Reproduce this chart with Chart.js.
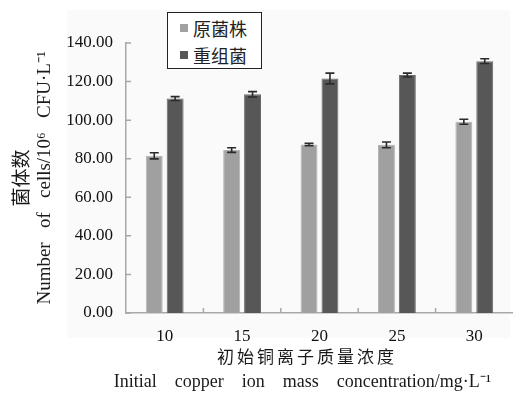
<!DOCTYPE html>
<html>
<head>
<meta charset="utf-8">
<script src="https://cdn.jsdelivr.net/npm/chart.js@4"></script>
<style>
    html, body { margin: 0; padding: 0; background: #fff; }
    #wrap { position: relative; width: 513px; height: 393px; }
    #legend {
        position: absolute; left: 167px; top: 12px; width: 93px; height: 54px;
        padding-top: 1px; border: 1px solid #222; background: #fff;
        font-family: "Noto Sans CJK SC"; font-size: 18px; color: #222;
    }
    #legend .item { display: flex; align-items: center; height: 27px; padding-left: 12px; }
    #legend .swatch { width: 8px; height: 8px; margin-right: 5px; }
</style>
</head>
<body>
<div id="wrap">
    <canvas id="bar-chart"></canvas>
    <div id="legend"></div>
</div>
<script>
const concentrations = ['10', '15', '20', '25', '30'];
const wildType = [81.5, 84.5, 87.4, 87.2, 99.2];
const wildTypeErr = [1.6, 1.2, 0.6, 1.5, 1.3];
const recombinant = [111.2, 113.4, 121.6, 123.4, 130.6];
const recombinantErr = [1.0, 1.4, 2.8, 1.0, 1.2];

const serif = "'Liberation Serif', 'Noto Sans CJK SC', serif";

// error bars drawn from the errors array on each dataset
const errorBars = {
    id: 'errorBars',
    afterDatasetsDraw: (chart) => {
        const ctx = chart.ctx;
        const y = chart.scales.y;
        ctx.save();
        ctx.strokeStyle = '#2b2b2b';
        ctx.lineWidth = 1.6;
        chart.data.datasets.forEach((ds, i) => {
            chart.getDatasetMeta(i).data.forEach((bar, j) => {
                const top = y.getPixelForValue(ds.data[j] + ds.errors[j]);
                const bottom = y.getPixelForValue(ds.data[j] - ds.errors[j]);
                ctx.beginPath();
                ctx.moveTo(bar.x, top); ctx.lineTo(bar.x, bottom);
                ctx.moveTo(bar.x - 4.5, top); ctx.lineTo(bar.x + 4.5, top);
                ctx.moveTo(bar.x - 4.5, bottom); ctx.lineTo(bar.x + 4.5, bottom);
                ctx.stroke();
            });
        });
        ctx.restore();
    }
};

// faint panel, inward tick marks and the x title
const decor = {
    id: 'decor',
    beforeDraw: (chart) => {
        const { ctx, chartArea } = chart;
        ctx.save();
        ctx.fillStyle = '#fafafa';
        ctx.fillRect(chartArea.left - 59, chartArea.top - 33, chartArea.right - chartArea.left + 56, chartArea.bottom - chartArea.top + 58);
        ctx.restore();
    },
    afterDraw: (chart) => {
        const { ctx, chartArea, scales } = chart;
        ctx.save();
        ctx.strokeStyle = '#a8a8a8';
        ctx.lineWidth = 1.5;
        ctx.beginPath();
        scales.y.ticks.forEach((t, i) => {
            const py = scales.y.getPixelForTick(i);
            ctx.moveTo(chartArea.left, py); ctx.lineTo(chartArea.left + 5, py);
        });
        for (let i = 1; i < concentrations.length; i++) {
            const px = (scales.x.getPixelForTick(i - 1) + scales.x.getPixelForTick(i)) / 2;
            ctx.moveTo(px, chartArea.bottom); ctx.lineTo(px, chartArea.bottom - 5);
        }
        ctx.stroke();

        const cx = (chartArea.left + chartArea.right) / 2 - 15;
        ctx.fillStyle = '#1a1a1a';
        ctx.textAlign = 'center';
        ctx.textBaseline = 'middle';
        ctx.font = "17px 'Noto Sans CJK SC'";
        ctx.letterSpacing = '3px';
        ctx.fillText('初始铜离子质量浓度', cx + 2.5, chartArea.bottom + 44);
        ctx.letterSpacing = '0px';
        ctx.font = '18px ' + serif;
        ctx.fillText('Initial    copper    ion    mass    concentration/mg·L⁻¹', cx - 2, chartArea.bottom + 69);
        ctx.restore();
    }
};

const chart = new Chart(document.getElementById('bar-chart').getContext('2d'), {
    type: 'bar',
    data: {
        labels: concentrations,
        datasets: [
            { label: '原菌株', data: wildType, errors: wildTypeErr, backgroundColor: '#a0a0a0', borderColor: '#b4b4b4', borderWidth: 1 },
            { label: '重组菌', data: recombinant, errors: recombinantErr, backgroundColor: '#575757', borderColor: '#6a6a6a', borderWidth: 1 }
        ]
    },
    options: {
        responsive: true,
        maintainAspectRatio: false,
        animation: false,
        layout: { padding: { top: 43, right: 0, bottom: 0, left: 0 } },
        datasets: { bar: { categoryPercentage: 0.54, barPercentage: 0.81 } },
        scales: {
            x: {
                grid: { display: false },
                border: { display: true, color: '#a8a8a8', width: 1.5 },
                ticks: { color: '#111', padding: 5, font: { family: serif, size: 17 } },
                afterFit: (scale) => { scale.height = 80; }
            },
            y: {
                min: 0, max: 140,
                grid: { display: false },
                border: { display: true, color: '#a8a8a8', width: 1.5 },
                ticks: {
                    stepSize: 20, color: '#111', padding: 5,
                    font: { family: serif, size: 17 },
                    callback: (v) => v.toFixed(2)
                },
                title: {
                    display: true,
                    text: ['菌体数', 'Number   of   cells/10⁶   CFU·L⁻¹'],
                    color: '#1a1a1a',
                    padding: { top: 12, bottom: 0 },
                    font: { family: serif, size: 19, lineHeight: '22px' }
                },
                afterFit: (scale) => { scale.width = 126; }
            }
        },
        plugins: {
            legend: { display: false },
            tooltip: { enabled: false }
        }
    },
    plugins: [errorBars, decor]
});

document.getElementById('legend').innerHTML = chart.data.datasets.map(ds =>
    '<div class="item"><span class="swatch" style="background:' + ds.backgroundColor + '"></span>' + ds.label + '</div>'
).join('');
</script>
</body>
</html>
